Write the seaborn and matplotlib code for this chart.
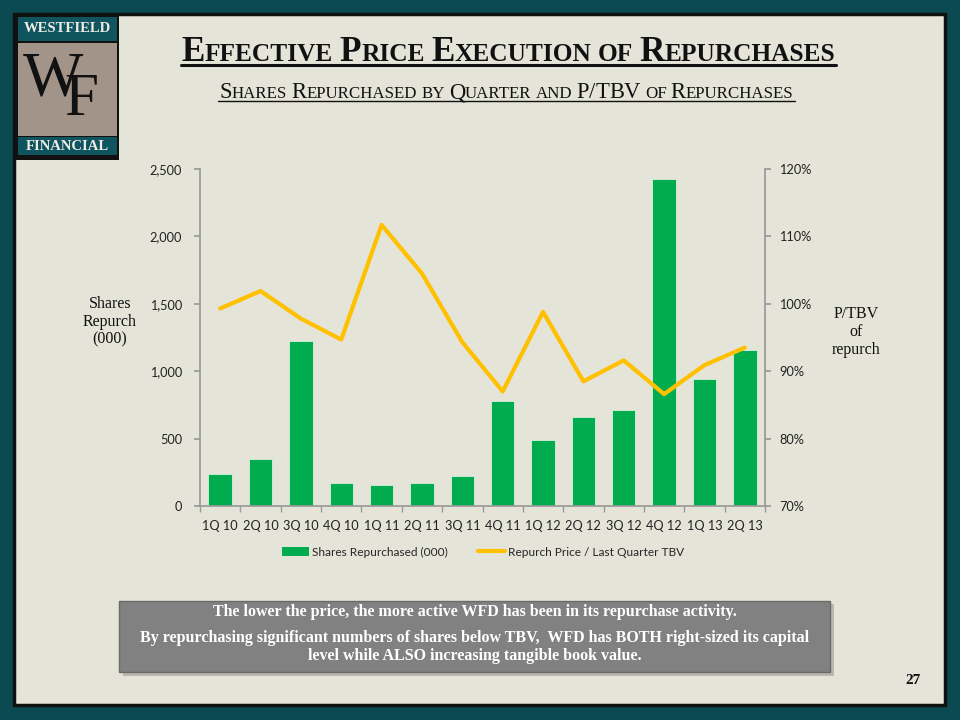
import numpy as np
import pandas as pd
import matplotlib
matplotlib.use("Agg")
import matplotlib.pyplot as plt
from matplotlib.patches import Rectangle
from matplotlib.lines import Line2D
import seaborn as sns

quarters = ["1Q 10", "2Q 10", "3Q 10", "4Q 10", "1Q 11", "2Q 11", "3Q 11",
            "4Q 11", "1Q 12", "2Q 12", "3Q 12", "4Q 12", "1Q 13", "2Q 13"]
shares = [237, 351, 1226, 173, 155, 173, 220, 779, 492, 658, 710, 2428, 940, 1157]
ptbv = [99.3, 101.9, 97.8, 94.7, 111.7, 104.5, 94.3, 87.0, 98.8, 88.5, 91.6, 86.6, 90.9, 93.5]
left_ticks = [0, 500, 1000, 1500, 2000, 2500]
right_ticks = [70, 80, 90, 100, 110, 120]

sns.set_theme(style="white")
plt.rcParams['font.family'] = ['Lato', 'DejaVu Sans']

TEAL = "#0b4a51"
BEIGE = "#e5e4d9"
GREEN = "#00ac4e"
GOLD = "#ffc000"
AXGRAY = "#9a9a9a"
SERIF = "Liberation Serif"
TICKSZ = 9.2

W, H = 960, 720
fig = plt.figure(figsize=(9.6, 7.2), dpi=100)
fig.patch.set_facecolor(TEAL)

def fx(x):
    return x / W

def fy(y):
    return 1 - y / H

def frect(x0, y0, x1, y1, **kw):
    r = Rectangle((fx(x0), fy(y1)), fx(x1) - fx(x0), fy(y0) - fy(y1),
                  transform=fig.transFigure, **kw)
    fig.patches.append(r)
    return r

# inner panel (behind axes)
frect(14, 14, 945, 705, facecolor=BEIGE, edgecolor="#111111", linewidth=2.5, zorder=-5)

# logo
frect(14, 14, 119, 160, facecolor="#111111", edgecolor="none", zorder=-4)
frect(18, 17, 117, 41, facecolor="#0e5560", edgecolor="none", zorder=-3)
frect(18, 43, 117, 136, facecolor="#a29489", edgecolor="none", zorder=-3)
frect(18, 137, 117, 155, facecolor="#0e5560", edgecolor="none", zorder=-3)
fig.text(fx(67), fy(29), "WESTFIELD", family=SERIF, fontsize=10.5, weight="bold",
         color="#f0ece4", ha="center", va="center")
fig.text(fx(67), fy(146), "FINANCIAL", family=SERIF, fontsize=10.5, weight="bold",
         color="#f0ece4", ha="center", va="center")
fig.text(fx(53), fy(80), "W", family=SERIF, fontsize=46, color="#111111",
         ha="center", va="center")
fig.text(fx(81), fy(100), "F", family=SERIF, fontsize=44, color="#111111",
         ha="center", va="center")

renderer = fig.canvas.get_renderer()

def small_caps(text, xl, xr, y_base, big, small, weight, underline_y, lw):
    pieces = []
    for wi, word in enumerate(text.split(" ")):
        if wi > 0:
            pieces.append((" ", "s"))
        first = word[0]
        if first.isupper():
            pieces.append((first, "b"))
            rest = word[1:]
        else:
            rest = word
        buf = ""
        for ch in rest:
            if ch.isupper() or ch == "/":
                if buf:
                    pieces.append((buf.upper(), "s"))
                    buf = ""
                pieces.append((ch, "b"))
            else:
                buf += ch
        if buf:
            pieces.append((buf.upper(), "s"))

    def measure(scale):
        texts, widths = [], []
        for s, kind in pieces:
            sz = (big if kind == "b" else small) * scale
            if s == " ":
                t1 = fig.text(0, 0, "x x", family=SERIF, fontsize=sz, weight=weight)
                t2 = fig.text(0, 0, "xx", family=SERIF, fontsize=sz, weight=weight)
                w = t1.get_window_extent(renderer).width - t2.get_window_extent(renderer).width
                t1.remove(); t2.remove()
                widths.append(w)
                texts.append(None)
            else:
                t = fig.text(0, fy(y_base), s, family=SERIF, fontsize=sz, weight=weight,
                             color="#111111", ha="left", va="baseline")
                widths.append(t.get_window_extent(renderer).width)
                texts.append(t)
        return texts, widths

    texts, widths = measure(1.0)
    scale = (xr - xl) / sum(widths)
    for t in texts:
        if t is not None:
            t.remove()
    texts, widths = measure(scale)
    x = xl + ((xr - xl) - sum(widths)) / 2
    for t, w in zip(texts, widths):
        if t is not None:
            t.set_x(fx(x))
        x += w
    fig.lines.append(Line2D([fx(xl), fx(xr)], [fy(underline_y), fy(underline_y)],
                            transform=fig.transFigure, color="#111111", linewidth=lw))

small_caps("Effective Price Execution of Repurchases", 181, 836, 61, 27, 19.5, "bold", 64.5, 2.2)
small_caps("Shares Repurchased by Quarter and P/TBV of Repurchases", 218, 795, 98, 18, 13.5, "normal", 101, 1.0)

# main chart
ax = fig.add_axes([fx(200), fy(506), fx(765) - fx(200), fy(169) - fy(506)])
ax.set_facecolor("none")
df = pd.DataFrame({"quarter": quarters, "shares": shares, "ptbv": ptbv})
sns.barplot(data=df, x="quarter", y="shares", color=GREEN, saturation=1, width=0.58,
            edgecolor="#d8f0dc", linewidth=0.6, ax=ax, zorder=2)
ax.set_xlim(-0.5, len(quarters) - 0.5)
ax.set_ylim(0, 2500)
ax.set_yticks(left_ticks)
ax.set_yticklabels([f"{v:,}" for v in left_ticks])
ax.set_xlabel("")
ax.set_ylabel("")

ax2 = ax.twinx()
ax2.set_facecolor("none")
sns.lineplot(x=np.arange(len(quarters)), y=df["ptbv"], color=GOLD, linewidth=3,
             ax=ax2, zorder=3)
ax2.set_ylim(70, 120)
ax2.set_yticks(right_ticks)
ax2.set_yticklabels([f"{v}%" for v in right_ticks])
ax2.set_xlim(-0.5, len(quarters) - 0.5)
ax2.set_ylabel("")

for a in (ax, ax2):
    for s in a.spines.values():
        s.set_visible(False)
ax.spines["left"].set_visible(True)
ax.spines["left"].set_color(AXGRAY)
ax.spines["bottom"].set_visible(True)
ax.spines["bottom"].set_color(AXGRAY)
ax2.spines["right"].set_visible(True)
ax2.spines["right"].set_color(AXGRAY)

ax.tick_params(axis="y", which="major", left=True, length=4, color=AXGRAY,
               labelsize=TICKSZ, labelcolor="#222222", pad=9)
ax.set_xticks(np.arange(-0.5, len(quarters), 1.0), minor=True)
ax.tick_params(axis="x", which="minor", bottom=True, length=4, color=AXGRAY)
ax.tick_params(axis="x", which="major", bottom=False, length=0, labelsize=TICKSZ,
               labelcolor="#222222", pad=10)
ax2.tick_params(axis="y", right=True, length=4, color=AXGRAY, labelsize=TICKSZ,
                labelcolor="#222222", pad=6)
ax.grid(False)
ax2.grid(False)

fig.text(fx(110), fy(322), "Shares\nRepurch\n(000)", family=SERIF, fontsize=11.5,
         ha="center", va="center", linespacing=1.15, color="#111111")
fig.text(fx(856), fy(332), "P/TBV\nof\nrepurch", family=SERIF, fontsize=11.5,
         ha="center", va="center", linespacing=1.15, color="#111111")

handles = [Rectangle((0, 0), 1, 1, facecolor=GREEN, edgecolor="none"),
           Line2D([0], [0], color=GOLD, linewidth=3)]
fig.legend(handles, ["Shares Repurchased (000)", "Repurch Price / Last Quarter TBV"],
           loc="center", bbox_to_anchor=(fx(483), fy(552)), ncol=2, frameon=False,
           fontsize=8.6, handlelength=2.2, handletextpad=0.25, columnspacing=2.6)

# bottom box with shadow
frect(123, 604, 834, 676, facecolor="#b9b8ae", edgecolor="none", zorder=1)
frect(119, 601, 830, 672, facecolor="#818181", edgecolor="#6a6a6a", linewidth=1, zorder=2)
fig.text(fx(475), fy(612), "The lower the price, the more active WFD has been in its repurchase activity.",
         family=SERIF, fontsize=11.5, weight="bold", color="white", ha="center", va="center", zorder=3)
fig.text(fx(475), fy(647), "By repurchasing significant numbers of shares below TBV,  WFD has BOTH right-sized its capital\nlevel while ALSO increasing tangible book value.",
         family=SERIF, fontsize=11.5, weight="bold", color="white", ha="center", va="center",
         linespacing=1.25, zorder=3)

fig.text(fx(913), fy(681), "27", family=SERIF, fontsize=11, weight="bold",
         color="#111111", ha="center", va="center")

fig.savefig("out.png", dpi=100, facecolor=fig.get_facecolor())
